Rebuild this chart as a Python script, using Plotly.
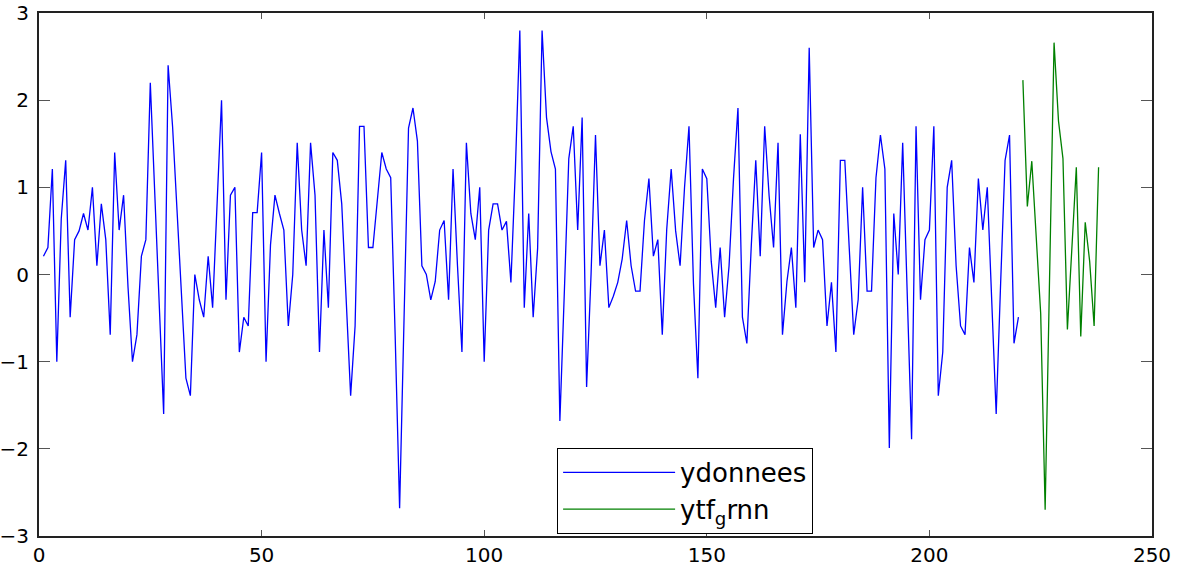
import plotly.graph_objects as go

# ---- data ----
ydonnees = [
    0.21, 0.31, 1.21, -1.00, 0.64, 1.31, -0.49, 0.40, 0.50, 0.70,
    0.51, 1.00, 0.10, 0.81, 0.40, -0.69, 1.40, 0.51, 0.91, -0.15,
    -1.00, -0.69, 0.21, 0.40, 2.20, 0.93, -0.33, -1.60, 2.40, 1.70,
    0.74, -0.22, -1.19, -1.39, 0.00, -0.29, -0.49, 0.21, -0.38, 0.81,
    2.00, -0.29, 0.91, 1.00, -0.89, -0.49, -0.59, 0.71, 0.71, 1.40,
    -1.00, 0.34, 0.91, 0.70, 0.51, -0.59, 0.00, 1.51, 0.51, 0.10,
    1.51, 0.91, -0.89, 0.51, -0.38, 1.40, 1.31, 0.81, -0.30, -1.39,
    -0.59, 1.70, 1.70, 0.31, 0.31, 0.85, 1.40, 1.21, 1.11, -0.70,
    -2.68, -0.50, 1.68, 1.91, 1.53, 0.10, 0.00, -0.29, -0.08, 0.51,
    0.62, -0.29, 1.21, 0.10, -0.89, 1.51, 0.70, 0.40, 1.00, -1.00,
    0.51, 0.81, 0.81, 0.51, 0.61, -0.09, 1.20, 2.80, -0.38, 0.70,
    -0.49, 0.30, 2.80, 1.80, 1.41, 1.21, -1.68, -0.20, 1.33, 1.70,
    0.51, 1.80, -1.29, 0.00, 1.60, 0.10, 0.51, -0.38, -0.25, -0.09,
    0.18, 0.62, 0.10, -0.19, -0.19, 0.62, 1.10, 0.21, 0.40, -0.69,
    0.52, 1.21, 0.50, 0.10, 1.00, 1.70, -0.10, -1.19, 1.21, 1.10,
    0.15, -0.38, 0.31, -0.49, 0.10, 1.10, 1.91, -0.49, -0.79, 0.34,
    1.31, 0.21, 1.70, 0.90, 0.31, 1.51, -0.69, -0.08, 0.31, -0.38,
    1.61, -0.09, 2.60, 0.31, 0.51, 0.40, -0.59, -0.09, -0.89, 1.31,
    1.31, 0.30, -0.69, -0.29, 1.00, -0.19, -0.19, 1.11, 1.60, 1.21,
    -1.99, 0.70, 0.00, 1.51, -0.30, -1.89, 1.70, -0.29, 0.40, 0.51,
    1.70, -1.39, -0.89, 1.00, 1.31, 0.10, -0.59, -0.69, 0.31, -0.09,
    1.10, 0.51, 1.00, -0.30, -1.60, -0.10, 1.31, 1.60, -0.79, -0.49,
]
x_donnees = list(range(1, len(ydonnees) + 1))

ytf_grnn = [
    2.23, 0.78, 1.30, 0.40, -0.45, -2.70, 0.00, 2.66, 1.76, 1.33,
    -0.63, 0.30, 1.23, -0.71, 0.60, 0.15, -0.59, 1.23,
]
x_grnn = list(range(len(ydonnees) + 1, len(ydonnees) + 1 + len(ytf_grnn)))

x_ticks = [0, 50, 100, 150, 200, 250]
y_ticks = [-3, -2, -1, 0, 1, 2, 3]

FONT = "DejaVu Sans"

fig = go.Figure()
fig.add_trace(go.Scatter(x=x_donnees, y=ydonnees, mode="lines", name="ydonnees",
                         line=dict(color="#0000ff", width=1.3)))
fig.add_trace(go.Scatter(x=x_grnn, y=ytf_grnn, mode="lines", name="ytf<sub>g</sub>rnn",
                         line=dict(color="#008000", width=1.3)))

axis_common = dict(showline=True, linecolor="#222222", linewidth=2, mirror="allticks",
                   ticks="inside", tickcolor="#555555", tickwidth=1,
                   showgrid=False, zeroline=False, automargin=False,
                   ticklabeloverflow="allow",
                   tickfont=dict(family=FONT, size=20, color="black"))

fig.update_xaxes(range=[0, 250], tickvals=x_ticks, ticklen=6, **axis_common)
fig.update_yaxes(range=[-3, 3], tickvals=y_ticks, ticklen=11, ticklabelstandoff=4, **axis_common)

fig.update_layout(
    width=1185, height=567,
    margin=dict(l=39, r=33, t=13, b=31),
    paper_bgcolor="white", plot_bgcolor="white",
    font=dict(family=FONT, color="black"),
    legend=dict(x=0.4655, y=0.004, xanchor="left", yanchor="bottom",
                bgcolor="white", bordercolor="black", borderwidth=1,
                font=dict(family=FONT, size=26, color="black"),
                itemwidth=112, tracegroupgap=0),
)

fig.write_html("out.html")
